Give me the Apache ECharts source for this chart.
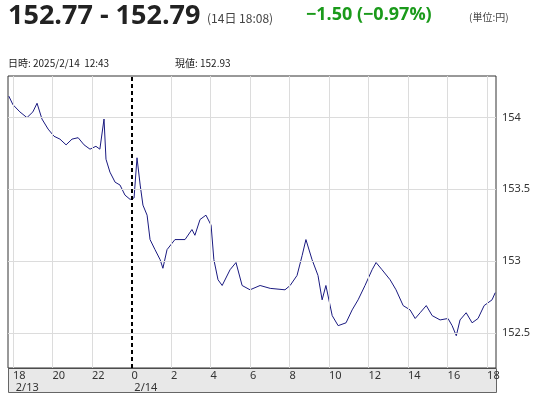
<!DOCTYPE html><html><head><meta charset="utf-8"><script src="https://cdn.jsdelivr.net/npm/echarts@6/dist/echarts.min.js"></script>
<style>html,body{margin:0;padding:0;background:#fff}#c{width:547px;height:400px}</style></head><body><div id="c"></div><script>
const hours=[-0.21,0,0.35,0.71,1.01,1.22,1.47,1.78,2.08,2.38,2.69,2.99,3.30,3.60,3.90,4.20,4.40,4.61,4.71,4.91,5.17,5.42,5.67,5.93,6.13,6.28,6.44,6.58,6.79,6.94,7.19,7.45,7.59,7.80,8.20,8.71,9.06,9.21,9.47,9.77,10.03,10.17,10.38,10.59,10.99,11.29,11.60,12.00,12.51,13.02,13.77,14.03,14.38,14.64,14.83,15.14,15.44,15.65,15.84,16.16,16.46,16.86,17.17,17.47,17.82,18.18,18.38,18.68,19.09,19.39,19.75,20.10,20.36,20.61,20.92,21.22,21.62,22.02,22.23,22.44,22.63,22.94,23.24,23.54,23.85,24.25,24.41];
const prices=[154.15,154.09,154.04,154.00,154.04,154.10,153.99,153.92,153.87,153.85,153.81,153.85,153.86,153.81,153.78,153.80,153.78,153.99,153.71,153.62,153.55,153.53,153.46,153.43,153.44,153.72,153.53,153.39,153.32,153.15,153.08,153.01,152.95,153.08,153.15,153.15,153.22,153.18,153.29,153.32,153.25,153.01,152.87,152.83,152.94,152.99,152.83,152.80,152.83,152.81,152.80,152.83,152.90,153.04,153.15,153.01,152.90,152.73,152.83,152.62,152.55,152.57,152.66,152.73,152.83,152.94,152.99,152.94,152.87,152.80,152.69,152.66,152.60,152.64,152.69,152.62,152.59,152.60,152.55,152.48,152.59,152.64,152.57,152.60,152.69,152.73,152.78];
const xTicks=[0,2,4,6,8,10,12,14,16,18,20,22,24];
const xTickLabels=['18\n 2/13','20','22','0\n 2/14','2','4','6','8','10','12','14','16','18'];
const yTicks=[152.5,153,153.5,154];
const dayBreak=6;
const ch=echarts.init(document.getElementById('c'));
const g={color:'#dcdcdc',width:1,type:'solid'};
ch.setOption({animation:false,
grid:{left:8,right:51,top:76,bottom:32,show:true,borderColor:'#333',borderWidth:1},
graphic:[
{type:'rect',left:8,top:368,shape:{width:488,height:24},style:{fill:'#e8e8e8',stroke:'#666'},z:-1},
{type:'text',left:8,top:3,style:{text:'152.77 - 152.79',font:'bold 27px "Open Sans",sans-serif',fill:'#222'}},
{type:'text',left:207,top:12,style:{text:'(14日 18:08)',font:'12px "Noto Sans CJK JP",sans-serif',fill:'#444'}},
{type:'text',left:306,top:6,style:{text:'−1.50 (−0.97%)',font:'bold 18px "Open Sans",sans-serif',fill:'#1a9a1a'}},
{type:'text',left:469,top:12,style:{text:'(単位:円)',font:'10px "Noto Sans CJK JP",sans-serif',fill:'#444'}},
{type:'text',left:8,top:58,style:{text:'日時: 2025/2/14  12:43',font:'10px "Noto Sans CJK JP",sans-serif',fill:'#222'}},
{type:'text',left:175,top:58,style:{text:'現値: 152.93',font:'10px "Noto Sans CJK JP",sans-serif',fill:'#222'}}
],
xAxis:{type:'value',min:-0.25,max:24.45,splitLine:{show:false},axisTick:{show:false},axisLine:{show:false},
 axisLabel:{customValues:xTicks,formatter:v=>xTickLabels[xTicks.indexOf(v)],color:'#333',fontSize:11,align:'left',margin:2,lineHeight:12,fontFamily:'Noto Sans'}},
yAxis:{type:'value',position:'right',min:152.255,max:154.29,splitLine:{show:false},axisLine:{show:false},axisTick:{show:false},
 axisLabel:{customValues:yTicks,formatter:v=>String(v),color:'#333',fontSize:11,margin:6,fontFamily:'Noto Sans'}},
series:[{type:'line',data:hours.map((h,i)=>[h,prices[i]]),showSymbol:false,lineStyle:{color:'#1a1a80',width:1},
 markLine:{silent:true,symbol:'none',label:{show:false},data:[
  ...xTicks.filter(v=>v!==dayBreak).map(v=>({xAxis:v,lineStyle:g})),
  ...yTicks.map(v=>({yAxis:v,lineStyle:g})),
  {xAxis:dayBreak,lineStyle:{color:'#000',width:2,type:[4,3]}}]}}]
});
</script></body></html>
